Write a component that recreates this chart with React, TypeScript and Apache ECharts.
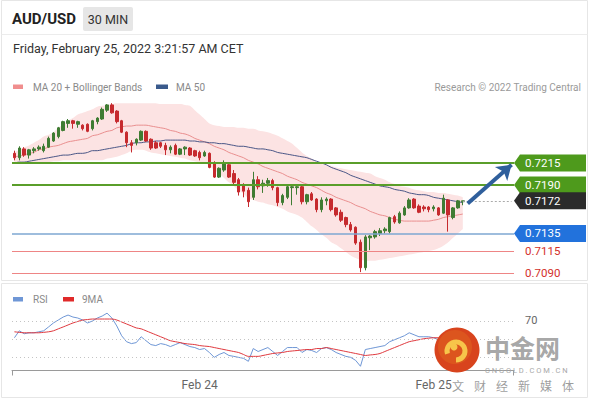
import React, { useEffect, useRef } from "react";
import * as echarts from "echarts";

// ---------- data ----------
const SLOT_COUNT = 103; // 93 candles + empty slots on the right for the projection
const START_UTC = Date.UTC(2022, 1, 23, 5, 0);
const MONTHS = ["Jan", "Feb", "Mar", "Apr", "May", "Jun", "Jul", "Aug", "Sep", "Oct", "Nov", "Dec"];
const pad = (n: number) => (n < 10 ? "0" + n : "" + n);
const categories: string[] = [];
for (let i = 0; i < SLOT_COUNT; i++) {
  const d = new Date(START_UTC + i * 30 * 60000);
  categories.push(`${d.getUTCFullYear()}-${pad(d.getUTCMonth() + 1)}-${pad(d.getUTCDate())} ${pad(d.getUTCHours())}:${pad(d.getUTCMinutes())}`);
}

// [open, close, low, high]
const ohlc: number[][] = [
  [0.7226, 0.7221, 0.7218, 0.7229], [0.7221, 0.7232, 0.7218, 0.7234], [0.7231, 0.7224, 0.7222, 0.7233], [0.7224, 0.723, 0.722, 0.7231],
  [0.7229, 0.7231, 0.7226, 0.7233], [0.7231, 0.7233, 0.7229, 0.7235], [0.7229, 0.7234, 0.7227, 0.7237], [0.7233, 0.7243, 0.7232, 0.7245],
  [0.724, 0.7249, 0.7239, 0.725], [0.7245, 0.7255, 0.7243, 0.7256], [0.7252, 0.7262, 0.7251, 0.7263], [0.726, 0.7263, 0.7255, 0.7265],
  [0.7263, 0.726, 0.7254, 0.7264], [0.7259, 0.7262, 0.7255, 0.7263], [0.7258, 0.7254, 0.7252, 0.7259], [0.7259, 0.7251, 0.725, 0.726],
  [0.7254, 0.7263, 0.7252, 0.7264], [0.7262, 0.7266, 0.7259, 0.7267], [0.7265, 0.7276, 0.7264, 0.7278], [0.7275, 0.7281, 0.7273, 0.7282],
  [0.7281, 0.7272, 0.7271, 0.7283], [0.7274, 0.7262, 0.726, 0.7275], [0.7263, 0.725, 0.7249, 0.7264], [0.725, 0.7238, 0.7233, 0.7251],
  [0.7238, 0.7235, 0.7227, 0.7241], [0.7238, 0.7242, 0.7235, 0.7243], [0.7241, 0.7251, 0.724, 0.7252], [0.7251, 0.724, 0.7239, 0.7252],
  [0.7242, 0.7232, 0.723, 0.7243], [0.7238, 0.7232, 0.7231, 0.724], [0.7238, 0.7234, 0.7232, 0.7239], [0.7235, 0.723, 0.7224, 0.7238],
  [0.723, 0.7233, 0.7226, 0.7235], [0.7235, 0.7225, 0.7224, 0.7237], [0.7225, 0.7231, 0.7224, 0.7232], [0.7231, 0.7233, 0.7224, 0.7234],
  [0.7232, 0.7224, 0.7223, 0.7233], [0.7229, 0.7223, 0.7222, 0.723], [0.7227, 0.7221, 0.7218, 0.7229], [0.7223, 0.7227, 0.7222, 0.7229],
  [0.7226, 0.721, 0.7209, 0.7227], [0.7215, 0.7199, 0.7198, 0.7217], [0.7199, 0.7209, 0.7198, 0.721], [0.7207, 0.7214, 0.7205, 0.7218],
  [0.7213, 0.7199, 0.7198, 0.7214], [0.7203, 0.7193, 0.7191, 0.7207], [0.7196, 0.7182, 0.7178, 0.7198], [0.719, 0.7183, 0.7176, 0.7192],
  [0.7184, 0.7171, 0.7165, 0.7187], [0.7176, 0.7196, 0.7173, 0.7205], [0.7196, 0.7188, 0.7185, 0.72], [0.7189, 0.7192, 0.7181, 0.7196],
  [0.7192, 0.7195, 0.7188, 0.7198], [0.7195, 0.7187, 0.7184, 0.7197], [0.7187, 0.717, 0.7166, 0.7188], [0.717, 0.7178, 0.7167, 0.718],
  [0.7176, 0.7188, 0.7174, 0.719], [0.7187, 0.7188, 0.7167, 0.7189], [0.7187, 0.7188, 0.7179, 0.7189], [0.7188, 0.7171, 0.7168, 0.7189],
  [0.7171, 0.7179, 0.7168, 0.718], [0.718, 0.7173, 0.7172, 0.7182], [0.7174, 0.7162, 0.7159, 0.7175], [0.7162, 0.7173, 0.7159, 0.7176],
  [0.7172, 0.7174, 0.7167, 0.7176], [0.7174, 0.7162, 0.716, 0.7175], [0.7164, 0.7156, 0.7154, 0.7165], [0.7159, 0.715, 0.7148, 0.7162],
  [0.7153, 0.7145, 0.7142, 0.7154], [0.7145, 0.7139, 0.7137, 0.7148], [0.7142, 0.7124, 0.7122, 0.7143], [0.7125, 0.7096, 0.7091, 0.7128],
  [0.7096, 0.7131, 0.7093, 0.7133], [0.713, 0.7132, 0.7116, 0.7133], [0.7131, 0.7137, 0.7129, 0.7139], [0.7135, 0.7138, 0.7132, 0.7141],
  [0.7138, 0.714, 0.7135, 0.7142], [0.7137, 0.7153, 0.7135, 0.7154], [0.7154, 0.7148, 0.7146, 0.7156], [0.7147, 0.7158, 0.7146, 0.716],
  [0.7156, 0.7164, 0.7155, 0.7166], [0.7164, 0.7173, 0.7163, 0.7175], [0.7174, 0.7164, 0.7163, 0.7175], [0.7166, 0.7159, 0.7158, 0.7168],
  [0.7165, 0.7163, 0.716, 0.7167], [0.7165, 0.7162, 0.7159, 0.7166], [0.7163, 0.7165, 0.716, 0.7167], [0.7164, 0.7156, 0.7155, 0.7165],
  [0.7158, 0.7175, 0.7157, 0.7179], [0.7173, 0.7156, 0.7137, 0.7174], [0.7153, 0.7164, 0.7151, 0.7165], [0.7164, 0.7172, 0.7163, 0.7173],
  [0.7171, 0.7172, 0.7167, 0.7172],
];

const ma20 = [
  0.7222, 0.7223, 0.7224, 0.7226, 0.7227, 0.723, 0.7231, 0.7233, 0.7234, 0.7235,
  0.7237, 0.7239, 0.724, 0.7241, 0.7242, 0.7243, 0.7246, 0.7247, 0.7249, 0.7251,
  0.7252, 0.7255, 0.7256, 0.7257, 0.7257, 0.7258, 0.7258, 0.7258, 0.7257, 0.7256,
  0.7255, 0.7254, 0.7252, 0.7251, 0.7249, 0.7248, 0.7246, 0.7243, 0.7241, 0.7239,
  0.7237, 0.7234, 0.7232, 0.723, 0.7227, 0.7225, 0.7223, 0.7221, 0.7218, 0.7216,
  0.7214, 0.7211, 0.7209, 0.7207, 0.7205, 0.7203, 0.72, 0.7198, 0.7196, 0.7193,
  0.7191, 0.7189, 0.7187, 0.7184, 0.7181, 0.7179, 0.7176, 0.7174, 0.7172, 0.717,
  0.7167, 0.7165, 0.7163, 0.716, 0.7158, 0.7156, 0.7155, 0.7153, 0.7151, 0.715,
  0.7149, 0.7149, 0.7149, 0.7149, 0.7149, 0.7149, 0.715, 0.7151, 0.7153, 0.7154,
  0.7155, 0.7156, 0.7157,
];

const ma50 = [
  0.7215, 0.7216, 0.7216, 0.7217, 0.7218, 0.7219, 0.722, 0.7221, 0.7222, 0.7223,
  0.7224, 0.7224, 0.7225, 0.7226, 0.7226, 0.7227, 0.7229, 0.7229, 0.723, 0.7231,
  0.7232, 0.7233, 0.7234, 0.7235, 0.7237, 0.7238, 0.7238, 0.7239, 0.7239, 0.724,
  0.724, 0.7241, 0.7241, 0.7241, 0.7241, 0.7241, 0.724, 0.724, 0.7239, 0.7239,
  0.7238, 0.7238, 0.7237, 0.7237, 0.7236, 0.7235, 0.7234, 0.7234, 0.7233, 0.7232,
  0.7231, 0.7231, 0.723, 0.7229, 0.7227, 0.7226, 0.7225, 0.7224, 0.7223, 0.7222,
  0.7221, 0.7219, 0.7217, 0.7215, 0.7213, 0.721, 0.7208, 0.7206, 0.7204, 0.7201,
  0.7199, 0.7197, 0.7195, 0.7193, 0.7191, 0.7189, 0.7188, 0.7187, 0.7185, 0.7184,
  0.7183, 0.7181, 0.718, 0.7179, 0.7179, 0.7178, 0.7176, 0.7175, 0.7174, 0.7173,
  0.7172, 0.7171, 0.717,
];

const bbUpper = [
  0.7227, 0.723, 0.7233, 0.7235, 0.7238, 0.7241, 0.7245, 0.7247, 0.725, 0.7255,
  0.7259, 0.7263, 0.7266, 0.727, 0.7272, 0.7274, 0.7276, 0.7279, 0.728, 0.7281,
  0.7282, 0.7283, 0.7283, 0.7283, 0.7283, 0.7283, 0.7283, 0.7283, 0.7283, 0.7283,
  0.7282, 0.7282, 0.7282, 0.7282, 0.7282, 0.7281, 0.728, 0.7275, 0.727, 0.7265,
  0.726, 0.7258, 0.7257, 0.7256, 0.7256, 0.7256, 0.7255, 0.7255, 0.7254, 0.7254,
  0.7252, 0.7251, 0.725, 0.7248, 0.7246, 0.7243, 0.724, 0.7237, 0.7232, 0.7227,
  0.7223, 0.722, 0.7216, 0.7214, 0.7213, 0.7212, 0.721, 0.7209, 0.7208, 0.7207,
  0.7206, 0.7205, 0.7204, 0.7203, 0.72, 0.7198, 0.7196, 0.7193, 0.7191, 0.7189,
  0.7188, 0.7187, 0.7185, 0.7184, 0.7183, 0.7182, 0.7182, 0.7181, 0.7181, 0.718,
  0.7179, 0.7178, 0.7176,
];

const bbLower = [
  0.7215, 0.7215, 0.7215, 0.7215, 0.7215, 0.7216, 0.7216, 0.7216, 0.7217, 0.7217,
  0.7218, 0.7218, 0.7218, 0.7218, 0.7218, 0.7218, 0.7218, 0.7218, 0.7218, 0.722,
  0.7221, 0.7222, 0.7224, 0.7226, 0.7229, 0.723, 0.723, 0.7229, 0.7227, 0.7226,
  0.7225, 0.7224, 0.7223, 0.7222, 0.7221, 0.722, 0.7218, 0.7217, 0.7216, 0.7215,
  0.7212, 0.7207, 0.7203, 0.7198, 0.7193, 0.7189, 0.7184, 0.718, 0.7175, 0.7173,
  0.7171, 0.717, 0.7168, 0.7167, 0.7165, 0.7163, 0.716, 0.7158, 0.7156, 0.7153,
  0.7148, 0.7143, 0.7139, 0.7134, 0.713, 0.7125, 0.7122, 0.7118, 0.7114, 0.711,
  0.7107, 0.7105, 0.7104, 0.7104, 0.7104, 0.7105, 0.7106, 0.7107, 0.7108, 0.7109,
  0.711, 0.7111, 0.7112, 0.7113, 0.7114, 0.7115, 0.7116, 0.7118, 0.7121, 0.7125,
  0.713, 0.7135, 0.714,
];

const rsi = [
  51.4, 59.1, 55.8, 56.9, 56.9, 58.0, 59.1, 63.4, 67.8, 71.1,
  74.4, 76.6, 74.4, 73.3, 71.1, 67.8, 70.0, 73.3, 75.5, 78.7,
  73.3, 64.5, 53.6, 47.0, 44.9, 46.0, 52.5, 48.1, 43.8, 42.7,
  44.9, 43.8, 41.6, 43.8, 46.0, 43.8, 41.6, 40.5, 38.3, 39.4,
  35.0, 29.6, 32.8, 35.0, 31.7, 30.7, 29.6, 28.5, 25.2, 39.4,
  36.1, 38.3, 40.5, 36.1, 31.7, 36.1, 40.5, 40.5, 40.5, 35.0,
  38.3, 37.2, 35.0, 39.4, 40.5, 38.3, 35.0, 32.8, 30.7, 29.6,
  26.3, 19.7, 38.3, 39.4, 40.5, 41.6, 42.7, 47.0, 49.2, 51.4,
  53.6, 56.9, 54.7, 52.5, 52.5, 52.5, 51.4, 49.2, 55.8, 49.2,
  50.3, 53.6, 54.7,
];

const rsiMA9 = [
  58.0, 57.4, 56.9, 56.9, 56.9, 56.9, 57.4, 58.0, 59.1, 61.3,
  63.4, 65.6, 67.8, 69.5, 71.1, 71.6, 72.2, 72.2, 72.2, 72.2,
  72.2, 71.1, 68.9, 66.7, 64.5, 62.3, 61.3, 59.1, 56.9, 54.7,
  52.5, 50.3, 48.1, 47.0, 46.0, 44.9, 44.3, 43.8, 42.7, 42.1,
  41.6, 40.5, 39.4, 38.3, 37.2, 36.1, 35.0, 32.8, 30.7, 30.7,
  30.7, 31.7, 32.8, 33.9, 34.5, 35.0, 36.1, 36.7, 37.2, 37.8,
  38.3, 38.3, 39.4, 39.4, 40.5, 39.4, 38.3, 37.2, 36.1, 35.0,
  33.9, 32.8, 31.7, 32.3, 32.8, 33.9, 36.1, 38.3, 40.5, 42.7,
  44.9, 47.0, 48.1, 49.2, 50.3, 50.9, 51.4, 51.4, 51.4, 51.4,
  51.4, 51.4, 51.4,
];

const resistanceLevels = [0.7215, 0.719];
const pivotLevel = 0.7135;
const supportLevels = [0.7115, 0.709];
const lastPrice = 0.7172;
const arrowStart = { slot: 93, price: 0.7169 };
const arrowEnd = { slot: 102, price: 0.7213 };
const rsiGuides = [70, 50, 30];
const rsiLabels = [70];

// ---------- layout / style ----------
const W = 590;
const H = 400;
const GL = 12;
const GW = 502;
const FONT = "Roboto, 'Liberation Sans', Arial, sans-serif";
const GREEN = "#3f7c33";
const RED = "#c62a2e";
const LEVEL_GREEN = "#5a9e2a";
const BOX_GREEN = "#4e9a1c";
const BOX_BLUE = "#2272dc";
const PIVOT_LINE = "#7ea7d2";
const SUPPORT_LINE = "#ee8585";
const SUPPORT_TEXT = "#d3302a";

const fmtDay = (v: string) => {
  const m = parseInt(v.slice(5, 7), 10);
  const d = parseInt(v.slice(8, 10), 10);
  return `${MONTHS[m - 1]} ${d}`;
};

const txt = (text: string, x: number, y: number, o: any = {}) => ({
  type: "text",
  z: o.z ?? 50,
  silent: true,
  style: {
    text,
    x,
    y,
    fill: o.fill ?? "#333",
    fontSize: o.size ?? 12,
    fontFamily: o.family ?? FONT,
    fontWeight: o.weight ?? "normal",
    opacity: o.opacity ?? 1,
    textAlign: o.align ?? "left",
    align: o.align ?? "left",
    textVerticalAlign: "middle",
    verticalAlign: "middle",
  },
});

export default function App() {
  const ref = useRef<HTMLDivElement>(null);

  useEffect(() => {
    document.body.style.margin = "0";
    if (!ref.current) return;
    const chart = echarts.init(ref.current, undefined, { renderer: "svg", width: W, height: H });

    const bandWidth = bbUpper.map((u, i) => +(u - bbLower[i]).toFixed(5));

    chart.setOption({
      animation: false,
      backgroundColor: "#ffffff",
      grid: [
        { left: GL, width: GW, top: 95.24, height: 184.8 },
        { left: GL, width: GW, top: 307.5, height: 63 },
      ],
      xAxis: [
        { type: "category", gridIndex: 0, data: categories, boundaryGap: true, show: false },
        {
          type: "category",
          gridIndex: 1,
          data: categories,
          boundaryGap: true,
          axisLine: { show: true, lineStyle: { color: "#9a9a9a", width: 1 } },
          axisTick: { show: false },
          splitLine: { show: false },
          axisLabel: {
            color: "#666",
            fontSize: 12,
            fontFamily: FONT,
            margin: 8,
            interval: (_i: number, v: string) => v.endsWith("00:00"),
            formatter: (v: string) => fmtDay(v),
          },
        },
      ],
      yAxis: [
        { type: "value", gridIndex: 0, min: 0.7082, max: 0.7292, show: false },
        { type: "value", gridIndex: 1, min: 15, max: 85, show: false },
      ],
      series: [
        {
          name: "bbLower",
          type: "line",
          xAxisIndex: 0,
          yAxisIndex: 0,
          data: bbLower,
          stack: "bb",
          symbol: "none",
          smooth: 0.3,
          lineStyle: { opacity: 0 },
          z: 1,
          silent: true,
        },
        {
          name: "bbBand",
          type: "line",
          xAxisIndex: 0,
          yAxisIndex: 0,
          data: bandWidth,
          stack: "bb",
          symbol: "none",
          smooth: 0.3,
          lineStyle: { opacity: 0 },
          areaStyle: { color: "#fce3e3", opacity: 1 },
          z: 1,
          silent: true,
        },
        {
          name: "MA 20",
          type: "line",
          xAxisIndex: 0,
          yAxisIndex: 0,
          data: ma20,
          symbol: "none",
          smooth: 0.3,
          lineStyle: { color: "#e98f8f", width: 1 },
          z: 2,
        },
        {
          name: "MA 50",
          type: "line",
          xAxisIndex: 0,
          yAxisIndex: 0,
          data: ma50,
          symbol: "none",
          smooth: 0.3,
          lineStyle: { color: "#4a5686", width: 1 },
          z: 2,
          markLine: {
            silent: true,
            symbol: "none",
            animation: false,
            precision: 6,
            label: { show: false },
            data: [
              ...resistanceLevels.map((v) => ({ yAxis: v, lineStyle: { color: LEVEL_GREEN, width: 2, type: "solid" } })),
              { yAxis: pivotLevel, lineStyle: { color: PIVOT_LINE, width: 1.5, type: "solid" } },
              ...supportLevels.map((v) => ({ yAxis: v, lineStyle: { color: SUPPORT_LINE, width: 1, type: "solid" } })),
            ],
          },
        },
        {
          name: "AUD/USD",
          type: "candlestick",
          xAxisIndex: 0,
          yAxisIndex: 0,
          data: ohlc,
          barWidth: 3,
          z: 3,
          itemStyle: { color: GREEN, color0: RED, borderColor: GREEN, borderColor0: RED, borderWidth: 1 },
          markLine: {
            silent: true,
            symbol: "none",
            animation: false,
            precision: 6,
            label: { show: false },
            data: [
              [
                { coord: [categories[ohlc.length - 1], lastPrice], symbol: "none", lineStyle: { color: "#aaa", width: 1, type: [2, 2] } },
                { coord: [categories[SLOT_COUNT - 1], lastPrice], symbol: "none" },
              ],
              [
                { coord: [categories[arrowStart.slot], arrowStart.price], symbol: "none", lineStyle: { color: "#2f5f9c", width: 4, type: "solid" } },
                { coord: [categories[arrowEnd.slot], arrowEnd.price], symbol: "arrow", symbolSize: [14, 14] },
              ],
            ],
          },
        },
        {
          name: "RSI",
          type: "line",
          xAxisIndex: 1,
          yAxisIndex: 1,
          data: rsi,
          symbol: "none",
          lineStyle: { color: "#6f97d6", width: 1 },
          z: 3,
          markLine: {
            silent: true,
            symbol: "none",
            label: { show: false },
            lineStyle: { color: "#c4c4c4", width: 1, type: [1, 3] },
            data: rsiGuides.map((v) => ({ yAxis: v })),
          },
        },
        {
          name: "9MA",
          type: "line",
          xAxisIndex: 1,
          yAxisIndex: 1,
          data: rsiMA9,
          symbol: "none",
          smooth: 0.3,
          lineStyle: { color: "#e0393e", width: 1 },
          z: 4,
        },
      ],
    });

    const yP = (v: number) => chart.convertToPixel({ yAxisIndex: 0 } as any, v) as number;
    const yR = (v: number) => chart.convertToPixel({ yAxisIndex: 1 } as any, v) as number;
    const tip = GL + GW;
    const boxRight = 586;
    const box = (v: number, color: string) => {
      const y = yP(v);
      return [
        {
          type: "polygon",
          z: 40,
          silent: true,
          shape: { points: [[tip, y], [tip + 6, y - 8.5], [boxRight, y - 8.5], [boxRight, y + 8.5], [tip + 6, y + 8.5]] },
          style: { fill: color },
        },
        txt(v.toFixed(4), tip + 11, y, { fill: "#fff", size: 11.5 }),
      ];
    };

    const axisBottom = 370.5;
    const graphics: any[] = [
      // frames
      { type: "rect", z: 0, silent: true, shape: { x: 1.5, y: 0.5, width: 586, height: 280 }, style: { fill: "none", stroke: "#e6e6e6", lineWidth: 1 } },
      { type: "line", z: 0, silent: true, shape: { x1: 1.5, y1: 34.5, x2: 587.5, y2: 34.5 }, style: { stroke: "#ececec", lineWidth: 1 } },
      { type: "rect", z: 0, silent: true, shape: { x: 1.5, y: 283.5, width: 586, height: 114 }, style: { fill: "none", stroke: "#e6e6e6", lineWidth: 1 } },
      // header
      txt("AUD/USD", 12, 18.5, { size: 15, weight: "bold", fill: "#222" }),
      { type: "rect", z: 10, silent: true, shape: { x: 83, y: 7, width: 50, height: 24, r: 2 }, style: { fill: "#e6e6e6" } },
      txt("30 MIN", 108, 19, { size: 12.5, fill: "#333", align: "center" }),
      txt("Friday, February 25, 2022 3:21:57 AM CET", 13, 48, { size: 12.5, fill: "#333" }),
      // price legend
      { type: "rect", z: 10, silent: true, shape: { x: 13, y: 84.5, width: 10, height: 4.5 }, style: { fill: "#f08e8e" } },
      txt("MA 20 + Bollinger Bands", 33, 87, { size: 10, fill: "#8a8a8a" }),
      { type: "rect", z: 10, silent: true, shape: { x: 156, y: 84.5, width: 12, height: 4.5 }, style: { fill: "#3a5a8c" } },
      txt("MA 50", 176, 87, { size: 10, fill: "#8a8a8a" }),
      txt("Research © 2022 Trading Central", 581, 87, { size: 10, fill: "#9a9a9a", align: "right" }),
      // level labels
      ...resistanceLevels.flatMap((v) => box(v, BOX_GREEN)),
      ...box(lastPrice, "#2b2b2b"),
      ...box(pivotLevel, BOX_BLUE),
      ...supportLevels.map((v) => txt(v.toFixed(4), tip + 11, yP(v), { fill: SUPPORT_TEXT, size: 11.5 })),
      // RSI legend
      { type: "rect", z: 10, silent: true, shape: { x: 13, y: 297, width: 10, height: 4.5 }, style: { fill: "#6f97d6" } },
      txt("RSI", 33, 299.5, { size: 10, fill: "#8a8a8a" }),
      { type: "rect", z: 10, silent: true, shape: { x: 63, y: 297, width: 11, height: 4.5 }, style: { fill: "#e02a2a" } },
      txt("9MA", 82, 299.5, { size: 10, fill: "#8a8a8a" }),
      ...rsiLabels.map((v) => txt(String(v), tip + 11, yR(v) - 1, { size: 11, fill: "#666" })),
      // axis end ticks
      { type: "line", z: 10, silent: true, shape: { x1: GL + 0.5, y1: axisBottom, x2: GL + 0.5, y2: axisBottom + 5 }, style: { stroke: "#9a9a9a", lineWidth: 1 } },
      { type: "line", z: 10, silent: true, shape: { x1: tip - 0.5, y1: axisBottom, x2: tip - 0.5, y2: axisBottom + 5 }, style: { stroke: "#9a9a9a", lineWidth: 1 } },
      // watermark
      { type: "circle", z: 90, silent: true, shape: { cx: 457, cy: 350, r: 22.5 }, style: { fill: "#d8441d" } },
      { type: "circle", z: 91, silent: true, shape: { cx: 455, cy: 347, r: 17 }, style: { fill: "#e0611f", opacity: 0.6 } },
      { type: "arc", z: 92, silent: true, shape: { cx: 456, cy: 351, r: 9, startAngle: Math.PI * 0.9, endAngle: Math.PI * 2.5 }, style: { stroke: "#f7c54a", lineWidth: 5, fill: "none" } },
      { type: "circle", z: 92, silent: true, shape: { cx: 454, cy: 347, r: 3.5 }, style: { fill: "#f7c54a" } },
      txt("中金网", 485, 346.5, { size: 25, weight: "bold", fill: "#9c9c9c", family: "'Noto Sans CJK SC', sans-serif", z: 90, opacity: 0.9 }),
      txt("C N G O L D . C O M . C N", 485, 370.5, { size: 7.5, fill: "#a8a8a8", z: 90 }),
      ...["文", "财", "经", "新", "媒", "体"].map((c, i) =>
        txt(c, 458 + i * 22, 385.5, { size: 12, fill: "#8c8c8c", align: "center", family: "'Noto Sans CJK SC', sans-serif", z: 90, opacity: 0.85 })
      ),
    ];

    chart.setOption({ graphic: graphics });

    return () => chart.dispose();
  }, []);

  return <div ref={ref} style={{ width: W, height: H }} />;
}
